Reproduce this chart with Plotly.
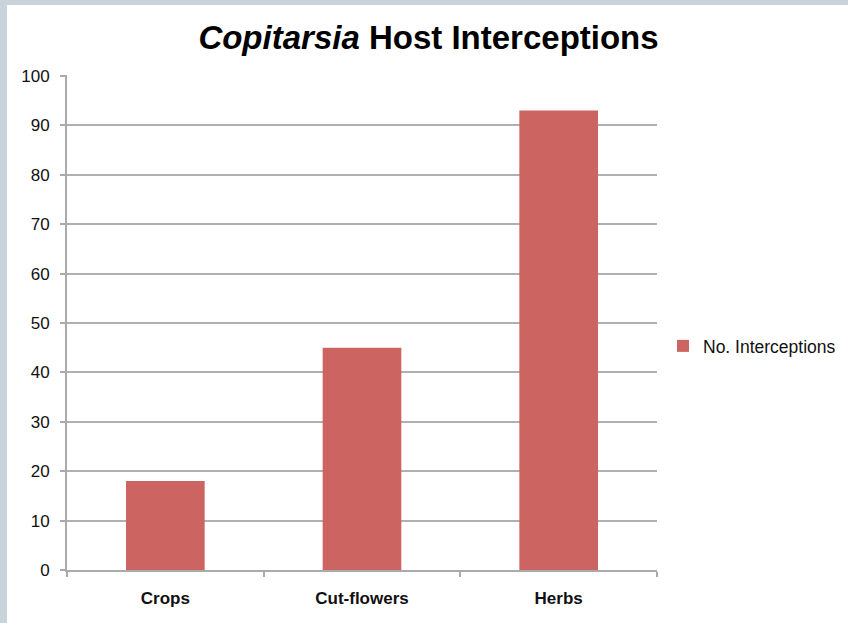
import plotly.graph_objects as go

categories = ["Crops", "Cut-flowers", "Herbs"]
interceptions = [18, 45, 93]
series_name = "No. Interceptions"
y_ticks = list(range(0, 101, 10))

W, H = 848, 623
L, R, T, B = 67, 191, 75, 53
pw, ph = W - L - R, H - T - B

fig = go.Figure()
fig.add_trace(go.Bar(
    x=categories, y=interceptions, name=series_name,
    marker=dict(color="#cc6561", line=dict(width=0)),
    showlegend=True,
))

# white panel over the blue-grey border
fig.add_shape(type="rect", xref="paper", yref="paper",
              x0=(7 - L) / pw, x1=(W - L) / pw + 0.01,
              y0=-(B) / ph - 0.01, y1=(H - B - 5) / ph,
              fillcolor="white", line=dict(width=0), layer="below")

fig.update_layout(
    width=W, height=H,
    margin=dict(l=L, r=R, t=T, b=B, autoexpand=False),
    paper_bgcolor="#c8d3dc",
    plot_bgcolor="rgba(0,0,0,0)",
    font=dict(family="Liberation Sans, Arial, sans-serif", color="#111111"),
    title=dict(text="<i>Copitarsia</i> Host Interceptions",
               x=428.5 / W, xanchor="center", y=1 - 37 / H, yanchor="middle",
               font=dict(size=33, color="#000000", weight="bold")),
    bargap=0.6,
    legend=dict(x=(663 - L) / pw, y=(H - B - 346) / ph, xanchor="left", yanchor="middle",
                font=dict(size=17.5, color="#111111"), bgcolor="rgba(0,0,0,0)",
                itemwidth=30, traceorder="normal"),
    xaxis=dict(showline=True, linecolor="#aaaaaa", linewidth=2,
               ticks="outside", tickson="boundaries", ticklen=5, tickcolor="#aaaaaa", tickwidth=2,
               tickfont=dict(size=17, weight="bold", color="#111111"),
               ticklabelstandoff=12, showgrid=False),
    yaxis=dict(range=[0, 100.2], tickvals=y_ticks, showline=True, linecolor="#aaaaaa", linewidth=2,
               ticks="outside", ticklen=5, tickcolor="#aaaaaa", tickwidth=2,
               gridcolor="#b0b0b0", gridwidth=1.5, zeroline=False,
               ticklabelstandoff=7,
               tickfont=dict(size=17, color="#111111")),
)

fig.write_html("out.html")
